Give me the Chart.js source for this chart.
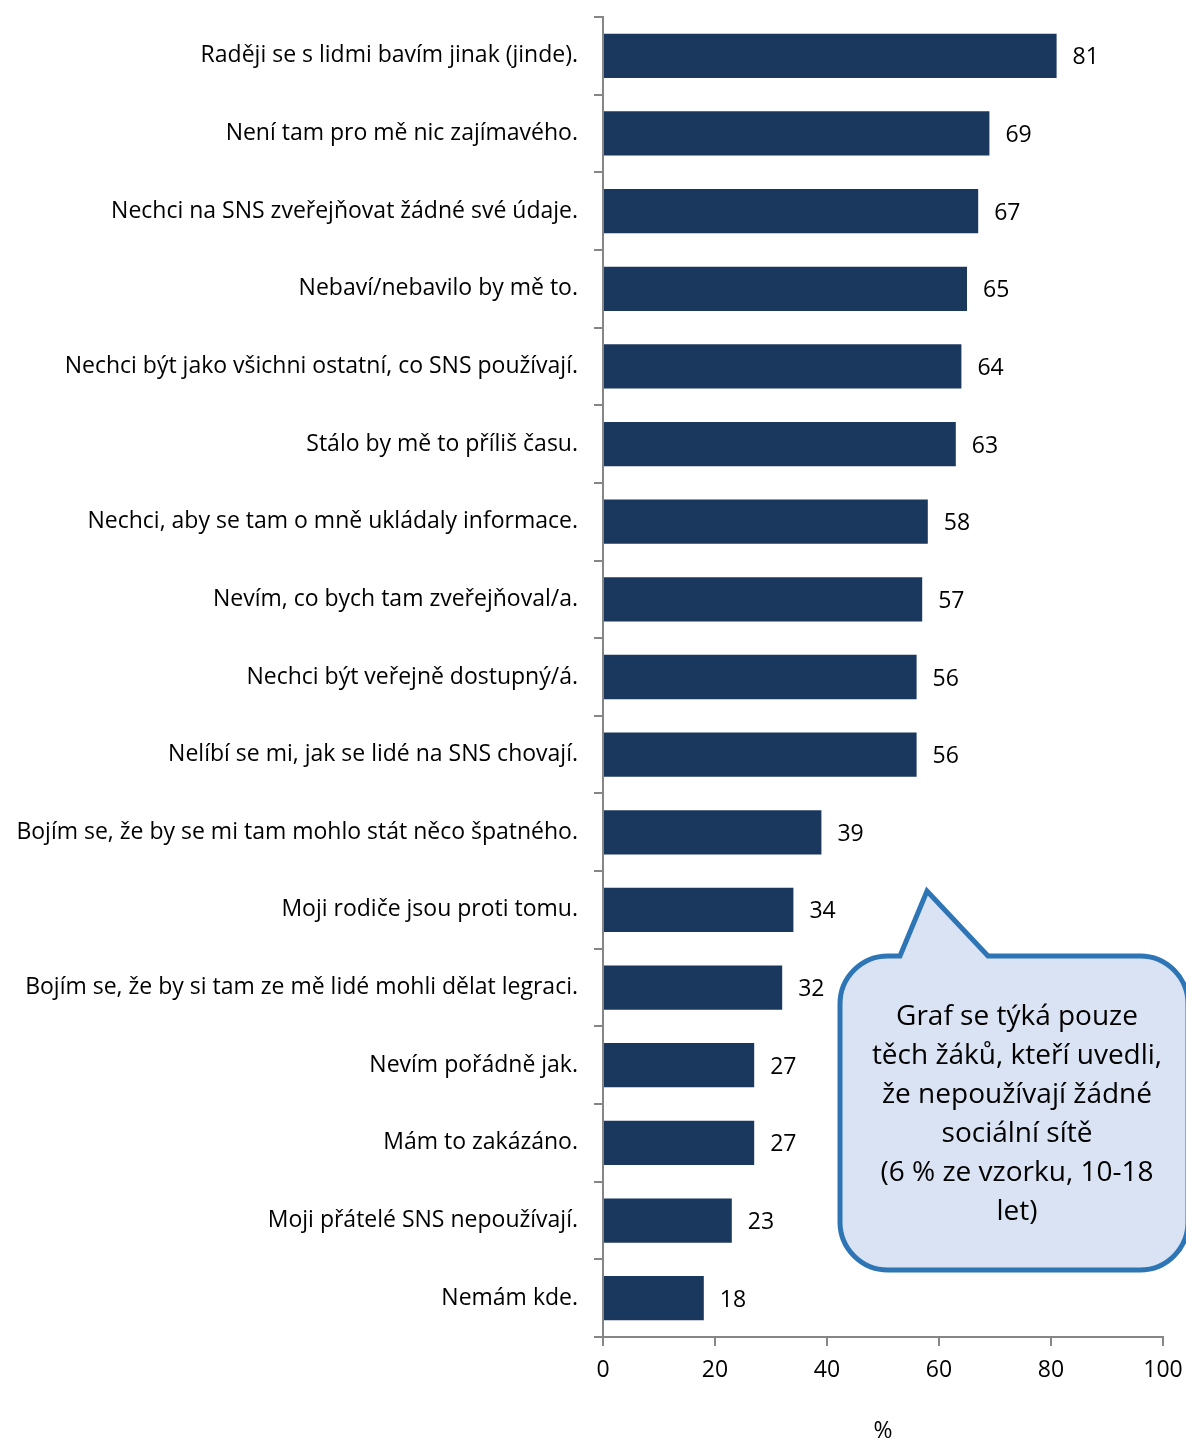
<!DOCTYPE html>
<html>
<head>
<meta charset="utf-8">
<script src="https://cdn.jsdelivr.net/npm/chart.js@4"></script>
<style>
  html, body { margin: 0; padding: 0; background: #fff; }
  canvas { display: block; }
</style>
</head>
<body>
<canvas id="graf" width="1186" height="1441"></canvas>
<script>
const kategorie = [
  "Raději se s lidmi bavím jinak (jinde).",
  "Není tam pro mě nic zajímavého.",
  "Nechci na SNS zveřejňovat žádné své údaje.",
  "Nebaví/nebavilo by mě to.",
  "Nechci být jako všichni ostatní, co SNS používají.",
  "Stálo by mě to příliš času.",
  "Nechci, aby se tam o mně ukládaly informace.",
  "Nevím, co bych tam zveřejňoval/a.",
  "Nechci být veřejně dostupný/á.",
  "Nelíbí se mi, jak se lidé na SNS chovají.",
  "Bojím se, že by se mi tam mohlo stát něco špatného.",
  "Moji rodiče jsou proti tomu.",
  "Bojím se, že by si tam ze mě lidé mohli dělat legraci.",
  "Nevím pořádně jak.",
  "Mám to zakázáno.",
  "Moji přátelé SNS nepoužívají.",
  "Nemám kde."
];
const hodnoty = [81, 69, 67, 65, 64, 63, 58, 57, 56, 56, 39, 34, 32, 27, 27, 23, 18];
const osaX = [0, 20, 40, 60, 80, 100];
const bublina = [
  "Graf se týká pouze",
  "těch žáků, kteří uvedli,",
  "že nepoužívají žádné",
  "sociální sítě",
  "(6 % ze vzorku, 10-18",
  "let)"
];

const pismo = "'Open Sans', Lato, sans-serif";
const seda = "#868686";

// popisky hodnot za koncem sloupců
const popiskyHodnot = {
  id: "popiskyHodnot",
  afterDatasetsDraw(chart) {
    const ctx = chart.ctx;
    const meta = chart.getDatasetMeta(0);
    ctx.save();
    ctx.font = "23px " + pismo;
    ctx.fillStyle = "#000";
    ctx.textAlign = "left";
    ctx.textBaseline = "middle";
    meta.data.forEach((bar, i) => {
      ctx.fillText(hodnoty[i], bar.x + 16, bar.y + 2);
    });
    ctx.restore();
  }
};

// komiksová bublina s poznámkou
const poznamka = {
  id: "poznamka",
  afterDraw(chart) {
    const ctx = chart.ctx;
    const l = 840, t = 956, r = 1188, b = 1270, rad = 48;
    ctx.save();
    ctx.beginPath();
    ctx.moveTo(l + rad, t);
    ctx.lineTo(900, t);
    ctx.lineTo(927, 891);
    ctx.lineTo(988, t);
    ctx.lineTo(r - rad, t);
    ctx.arcTo(r, t, r, t + rad, rad);
    ctx.lineTo(r, b - rad);
    ctx.arcTo(r, b, r - rad, b, rad);
    ctx.lineTo(l + rad, b);
    ctx.arcTo(l, b, l, b - rad, rad);
    ctx.lineTo(l, t + rad);
    ctx.arcTo(l, t, l + rad, t, rad);
    ctx.closePath();
    ctx.fillStyle = "#dae3f3";
    ctx.fill();
    ctx.lineWidth = 5;
    ctx.lineJoin = "miter";
    ctx.strokeStyle = "#2e75b6";
    ctx.stroke();
    ctx.font = "28px " + pismo;
    ctx.fillStyle = "#000";
    ctx.textAlign = "center";
    ctx.textBaseline = "middle";
    bublina.forEach((radek, i) => {
      ctx.fillText(radek, 1017, 1017 + i * 39);
    });
    ctx.restore();
  }
};

new Chart(document.getElementById("graf"), {
  type: "bar",
  data: {
    labels: kategorie,
    datasets: [{
      data: hodnoty,
      backgroundColor: "#1a375e",
      borderWidth: 0,
      barPercentage: 0.57,
      categoryPercentage: 1
    }]
  },
  options: {
    indexAxis: "y",
    responsive: false,
    animation: false,
    devicePixelRatio: 1,
    layout: { padding: { top: 17, right: 23, left: 0, bottom: 0 } },
    plugins: {
      legend: { display: false },
      tooltip: { enabled: false }
    },
    scales: {
      y: {
        afterFit(scale) {
          scale.width = 603;
          scale.paddingTop = 0;
          scale.paddingBottom = 0;
        },
        grid: {
          offset: true,
          drawOnChartArea: false,
          tickLength: 9,
          color: seda,
          lineWidth: 2
        },
        border: { color: seda, width: 2 },
        ticks: {
          font: { family: pismo, size: 23 },
          color: "#000",
          padding: 16
        }
      },
      x: {
        min: 0,
        max: 100,
        afterFit(scale) {
          scale.height = 104;
          scale.paddingLeft = 0;
          scale.paddingRight = 0;
        },
        afterBuildTicks(scale) { scale.ticks = osaX.map(v => ({ value: v })); },
        grid: {
          drawOnChartArea: false,
          tickLength: 9,
          color: seda,
          lineWidth: 2
        },
        border: { color: seda, width: 2 },
        ticks: {
          font: { family: pismo, size: 23 },
          color: "#000",
          padding: 11,
          maxRotation: 0
        },
        title: {
          display: true,
          text: "%",
          font: { family: pismo, size: 23, lineHeight: 0.85 },
          color: "#000",
          padding: { top: 30, bottom: 0 }
        }
      }
    }
  },
  plugins: [popiskyHodnot, poznamka]
});
</script>
</body>
</html>
